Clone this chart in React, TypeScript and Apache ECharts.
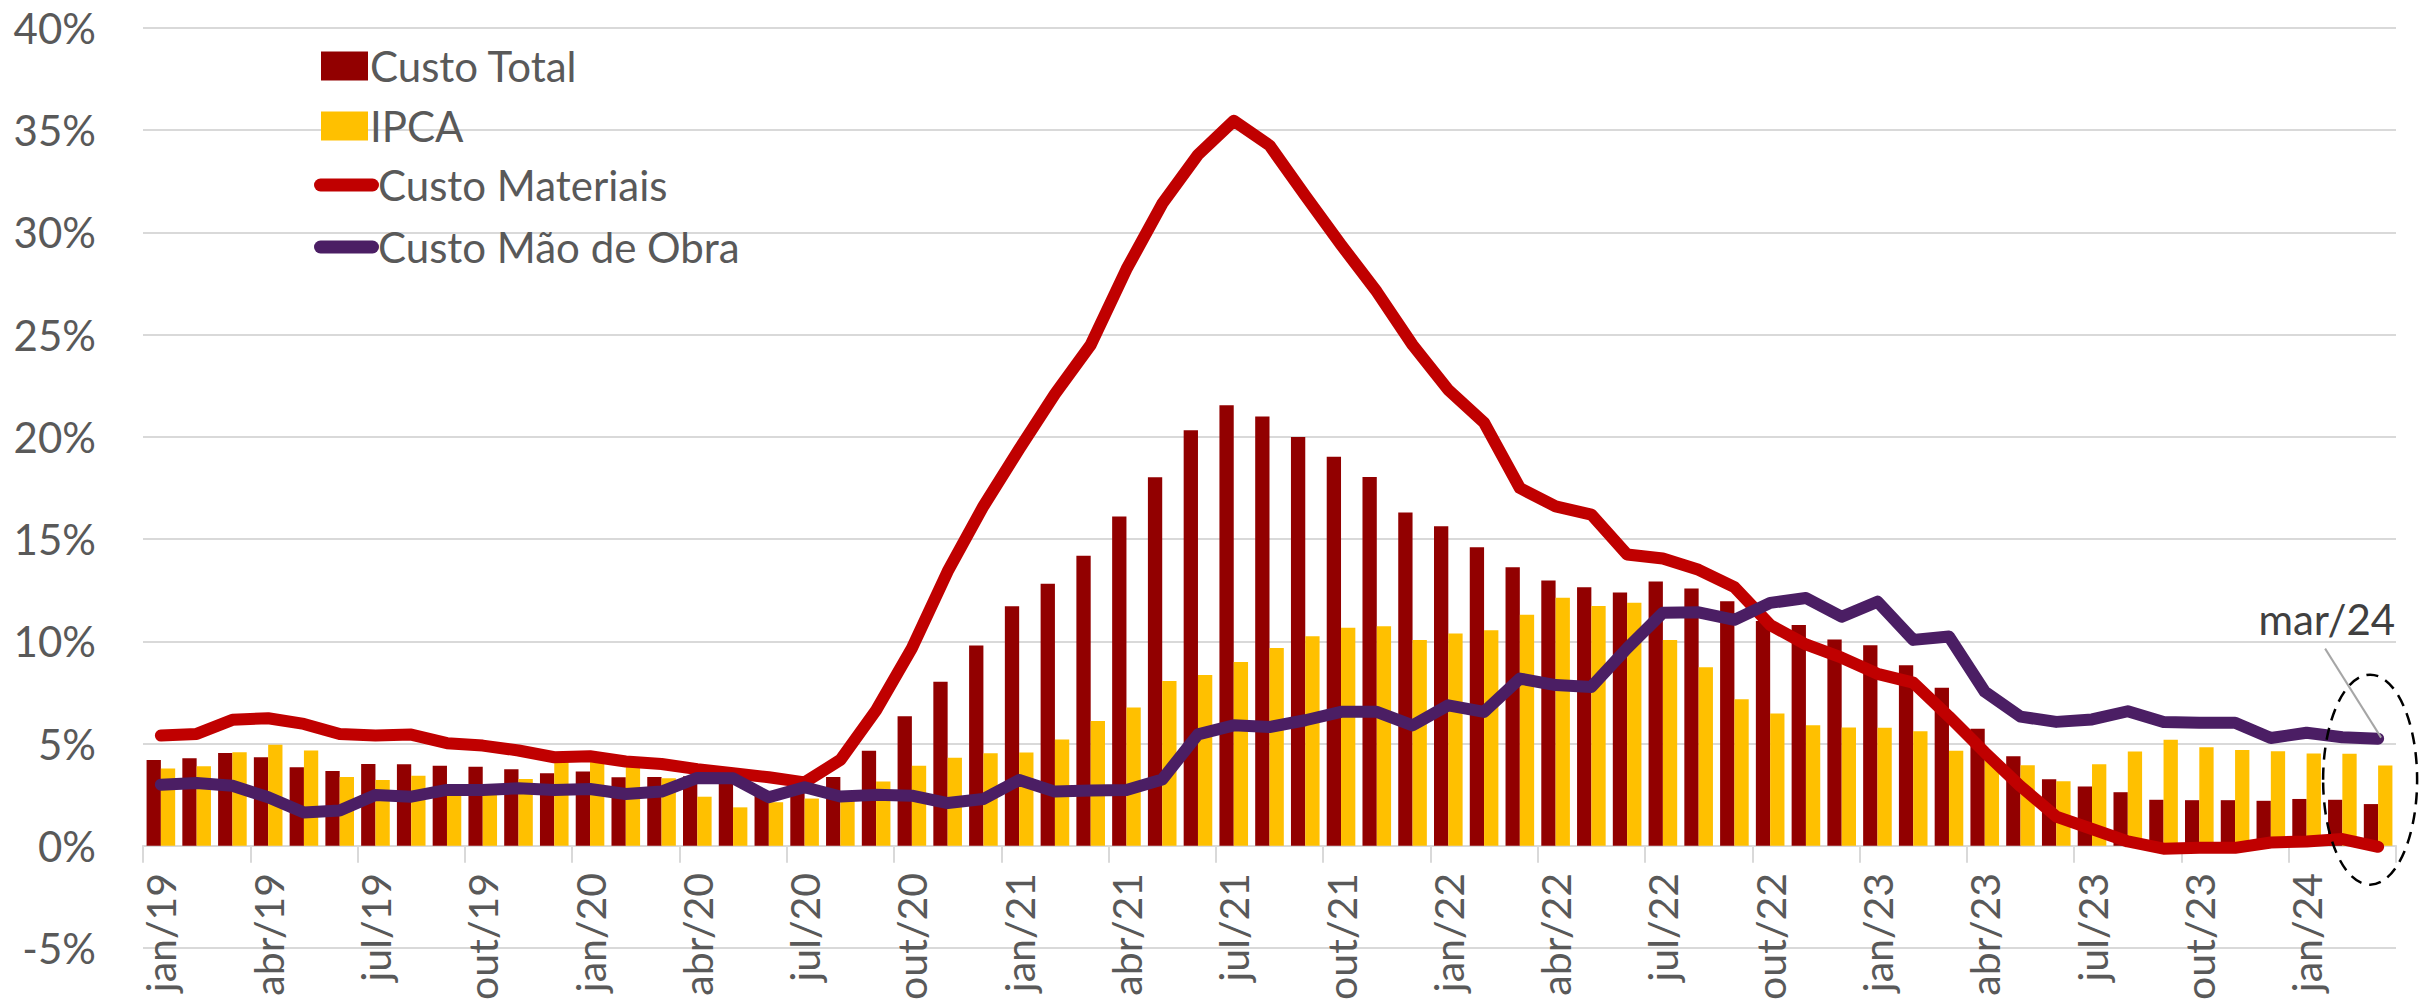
import React, { useEffect, useRef } from "react";
import * as echarts from "echarts";

const monthNames = ["jan", "fev", "mar", "abr", "mai", "jun", "jul", "ago", "set", "out", "nov", "dez"];
const years = ["19", "20", "21", "22", "23", "24"];
const categories: string[] = [];
years.forEach((y) => monthNames.forEach((m) => categories.push(`${m}/${y}`)));
categories.length = 63; // jan/19 .. mar/24

const custoTotal = [
  4.2, 4.28, 4.54, 4.33, 3.84, 3.66, 4.0, 3.99, 3.91, 3.86, 3.74, 3.55,
  3.63, 3.35, 3.37, 3.4, 3.25, 2.65, 2.95, 3.36, 4.65, 6.33, 8.02, 9.8,
  11.72, 12.82, 14.19, 16.1, 18.02, 20.33, 21.55, 21.0, 20.0, 19.03, 18.04, 16.3,
  15.63, 14.6, 13.62, 12.98, 12.65, 12.39, 12.93, 12.59, 11.96, 11.0, 10.8, 10.09,
  9.81, 8.83, 7.73, 5.72, 4.38, 3.25, 2.9, 2.62, 2.25, 2.23, 2.23, 2.2,
  2.29, 2.25, 2.04,
];

const ipca = [
  3.78, 3.89, 4.58, 4.94, 4.66, 3.37, 3.22, 3.43, 2.89, 2.54, 3.27, 4.31,
  4.19, 4.0, 3.3, 2.4, 1.88, 2.13, 2.31, 2.44, 3.14, 3.92, 4.31, 4.52,
  4.56, 5.2, 6.1, 6.76, 8.06, 8.35, 8.99, 9.68, 10.25, 10.67, 10.74, 10.06,
  10.38, 10.54, 11.3, 12.13, 11.73, 11.89, 10.07, 8.73, 7.17, 6.47, 5.9, 5.79,
  5.77, 5.6, 4.65, 4.18, 3.94, 3.16, 3.99, 4.61, 5.19, 4.82, 4.68, 4.62,
  4.51, 4.5, 3.93,
];

const custoMateriais = [
  5.39, 5.47, 6.16, 6.24, 5.96, 5.47, 5.39, 5.44, 5.02, 4.9, 4.66, 4.33,
  4.38, 4.12, 4.0, 3.75, 3.55, 3.35, 3.1, 4.2, 6.63, 9.66, 13.42, 16.61,
  19.4, 22.1, 24.5, 28.2, 31.4, 33.8, 35.46, 34.26, 31.8, 29.4, 27.1, 24.5,
  22.3, 20.7, 17.5, 16.6, 16.2, 14.25, 14.05, 13.5, 12.65, 10.8, 9.85, 9.2,
  8.41, 7.98, 6.32, 4.57, 2.91, 1.43, 0.82, 0.21, -0.14, -0.1, -0.1, 0.16,
  0.21, 0.33, -0.05,
];

const custoMaoDeObra = [
  2.99, 3.07, 2.94, 2.37, 1.63, 1.72, 2.48, 2.4, 2.73, 2.73, 2.81, 2.73,
  2.78, 2.53, 2.65, 3.32, 3.3, 2.37, 2.86, 2.41, 2.49, 2.45, 2.09, 2.29,
  3.22, 2.65, 2.7, 2.73, 3.24, 5.45, 5.89, 5.81, 6.14, 6.55, 6.55, 5.89,
  6.87, 6.55, 8.18, 7.86, 7.77, 9.66, 11.4, 11.42, 11.05, 11.88, 12.12, 11.2,
  11.94, 10.07, 10.24, 7.54, 6.32, 6.06, 6.18, 6.58, 6.06, 6.02, 6.02, 5.27,
  5.53, 5.31, 5.24,
];

const yTicks = { min: -5, max: 40, interval: 5 };

const FONT = "Lato";
const TEXT = "#595959";
const GRID = "#D9D9D9";
const C_TOTAL = "#920000";
const C_IPCA = "#FFC000";
const C_MAT = "#C00000";
const C_MAO = "#4B1E64";
const LINE_ICON = "path://M6.5,0 H58.5 A6.5,6.5 0 0 1 58.5,13 H6.5 A6.5,6.5 0 0 1 6.5,0 Z";

export default function App() {
  const ref = useRef<HTMLDivElement>(null);

  useEffect(() => {
    if (!ref.current) return;
    const chart = echarts.init(ref.current, undefined, { renderer: "svg" });
    chart.setOption({
      animation: false,
      backgroundColor: "#ffffff",
      textStyle: { fontFamily: FONT },
      grid: { left: 143, right: 37, top: 28, bottom: 59, containLabel: false, outerBoundsMode: "none" },
      legend: [
        {
          data: [
            { name: "Custo Total", icon: "rect" },
            { name: "IPCA", icon: "rect" },
          ],
          orient: "vertical",
          left: 321,
          top: 45,
          padding: 0,
          itemWidth: 47,
          itemHeight: 29,
          itemGap: 18,
          selectedMode: false,
          textStyle: { fontSize: 42, color: TEXT, fontFamily: FONT, padding: [0, 0, 0, -3] },
        },
        {
          data: [
            { name: "Custo Materiais", icon: LINE_ICON },
            { name: "Custo Mão de Obra", icon: LINE_ICON },
          ],
          orient: "vertical",
          left: 314,
          top: 164,
          padding: 0,
          itemWidth: 65,
          itemHeight: 13,
          itemGap: 20,
          selectedMode: false,
          textStyle: { fontSize: 42, color: TEXT, fontFamily: FONT, padding: [0, 0, 0, -6] },
        },
      ],
      xAxis: {
        type: "category",
        data: categories,
        boundaryGap: true,
        axisLine: { onZero: true, lineStyle: { color: GRID, width: 2 } },
        axisTick: { show: true, interval: 2, length: 17, lineStyle: { color: GRID, width: 2 } },
        axisLabel: {
          interval: 2,
          rotate: 90,
          margin: -75,
          fontSize: 41,
          color: TEXT,
          fontFamily: FONT,
        },
        splitLine: { show: false },
      },
      yAxis: {
        type: "value",
        min: yTicks.min,
        max: yTicks.max,
        interval: yTicks.interval,
        axisLine: { show: false },
        axisTick: { show: false },
        axisLabel: { formatter: "{value}%", fontSize: 42, color: TEXT, fontFamily: FONT, margin: 47 },
        splitLine: { lineStyle: { color: GRID, width: 2 } },
      },
      series: [
        {
          name: "Custo Total",
          type: "bar",
          data: custoTotal,
          itemStyle: { color: C_TOTAL },
          barGap: "0%",
          barCategoryGap: "20%",
          z: 2,
        },
        {
          name: "IPCA",
          type: "bar",
          data: ipca,
          itemStyle: { color: C_IPCA },
          barGap: "0%",
          barCategoryGap: "20%",
          z: 2,
        },
        {
          name: "Custo Materiais",
          type: "line",
          data: custoMateriais,
          symbol: "none",
          itemStyle: { color: C_MAT },
          lineStyle: { color: C_MAT, width: 12, cap: "round", join: "round" },
          z: 3,
        },
        {
          name: "Custo Mão de Obra",
          type: "line",
          data: custoMaoDeObra,
          symbol: "none",
          itemStyle: { color: C_MAO },
          lineStyle: { color: C_MAO, width: 12, cap: "round", join: "round" },
          z: 4,
        },
      ],
    });

    const last = categories.length - 1;
    const pt = chart.convertToPixel({ xAxisIndex: 0, yAxisIndex: 0 }, [last, custoMaoDeObra[last]]) as number[];
    if (pt && isFinite(pt[0]) && isFinite(pt[1])) {
      const [px, py] = pt;
      chart.setOption({
        graphic: [
          {
            type: "line",
            shape: { x1: px - 53, y1: py - 90, x2: px + 3, y2: py - 1 },
            style: { stroke: "#A6A6A6", lineWidth: 2 },
            z: 10,
          },
          {
            type: "ellipse",
            shape: { cx: px - 8, cy: py + 41, rx: 47, ry: 105 },
            style: { fill: "none", stroke: "#000000", lineWidth: 2.5, lineDash: [12, 8] },
            z: 10,
          },
          {
            type: "text",
            x: px + 17,
            y: py - 120,
            style: {
              text: "mar/24",
              fontSize: 42,
              fontFamily: FONT,
              fill: "#404040",
              align: "right",
              verticalAlign: "middle",
            },
            z: 10,
          },
        ],
      });
    }

    return () => chart.dispose();
  }, []);

  return (
    <div
      ref={ref}
      style={{ position: "absolute", left: 0, top: 0, width: 2433, height: 1007, background: "#fff" }}
    />
  );
}
